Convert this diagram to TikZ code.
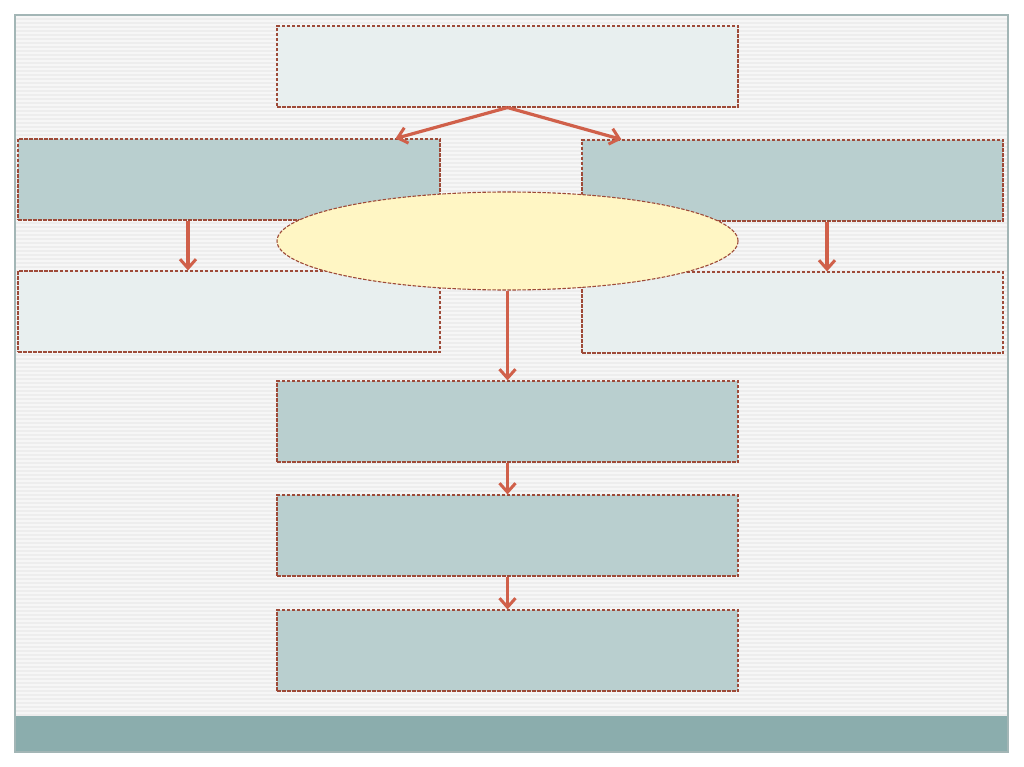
\documentclass[tikz,border=0pt]{standalone}
\usetikzlibrary{shapes.geometric,arrows.meta}
\definecolor{paleBox}{HTML}{E8EFEF}
\definecolor{darkBox}{HTML}{B9CFCF}
\definecolor{ovalFill}{HTML}{FFF6C4}
\definecolor{edgeRed}{HTML}{9E4A38}
\definecolor{arrowRed}{HTML}{D0604A}
\definecolor{barTeal}{HTML}{8BADAD}
\definecolor{frameGray}{HTML}{A3B6B6}
\definecolor{stripeBg}{HTML}{EDEDED}
\definecolor{stripeLt}{HTML}{F6F6F6}
\tikzset{
    box/.style={draw=edgeRed, dashed, dash pattern=on 3.5pt off 1.5pt, line width=1.1pt, minimum height=81pt, inner sep=0pt},
    pale/.style={box, fill=paleBox},
    dark/.style={box, fill=darkBox},
    flow/.style={draw=arrowRed, line width=3.2pt, -{Straight Barb[length=9pt,width=16pt,line width=3pt]}}
}
\begin{document}
\begin{tikzpicture}[x=1pt, y=-1pt]
\useasboundingbox (0,0) rectangle (1024,767);
\fill[white] (0,0) rectangle (1024,767);
\fill[stripeBg] (15,15) rectangle (1008,716);
\foreach \y in {17,21,...,714}
{
    \draw[stripeLt, line width=2pt](15,\y)--(1008,\y);
}
\fill[barTeal] (15,716) rectangle (1008,752);
\draw[frameGray, line width=1.8pt] (15,15) rectangle (1008,752);

\node[pale, minimum width=461pt] (top) at (507.5,66.5) {};
\node[dark, minimum width=422pt] (left1) at (229,179.5) {};
\node[dark, minimum width=421pt] (right1) at (792.5,180.5) {};
\node[pale, minimum width=422pt] (left2) at (229,311.5) {};
\node[pale, minimum width=421pt] (right2) at (792.5,312.5) {};
\node[ellipse, draw=edgeRed, dashed, dash pattern=on 3.5pt off 1.5pt, line width=1.1pt, fill=ovalFill, minimum width=461pt, minimum height=98pt, inner sep=0pt] (oval) at (507.5,241) {};
\node[dark, minimum width=461pt] (mid1) at (507.5,421.5) {};
\node[dark, minimum width=461pt] (mid2) at (507.5,535.5) {};
\node[dark, minimum width=461pt] (mid3) at (507.5,650.5) {};

\draw[flow] (top.south) -- ([xshift=-45pt]left1.north east);
\draw[flow] (top.south) -- ([xshift=40pt]right1.north west);
\draw[flow] ([xshift=-41pt]left1.south) -- ([xshift=-41pt]left2.north);
\draw[flow] ([xshift=34.5pt]right1.south) -- ([xshift=34.5pt]right2.north);
\draw[flow] (oval.south) -- (mid1.north);
\draw[flow] (mid1.south) -- (mid2.north);
\draw[flow] (mid2.south) -- (mid3.north);
\end{tikzpicture}
\end{document}
